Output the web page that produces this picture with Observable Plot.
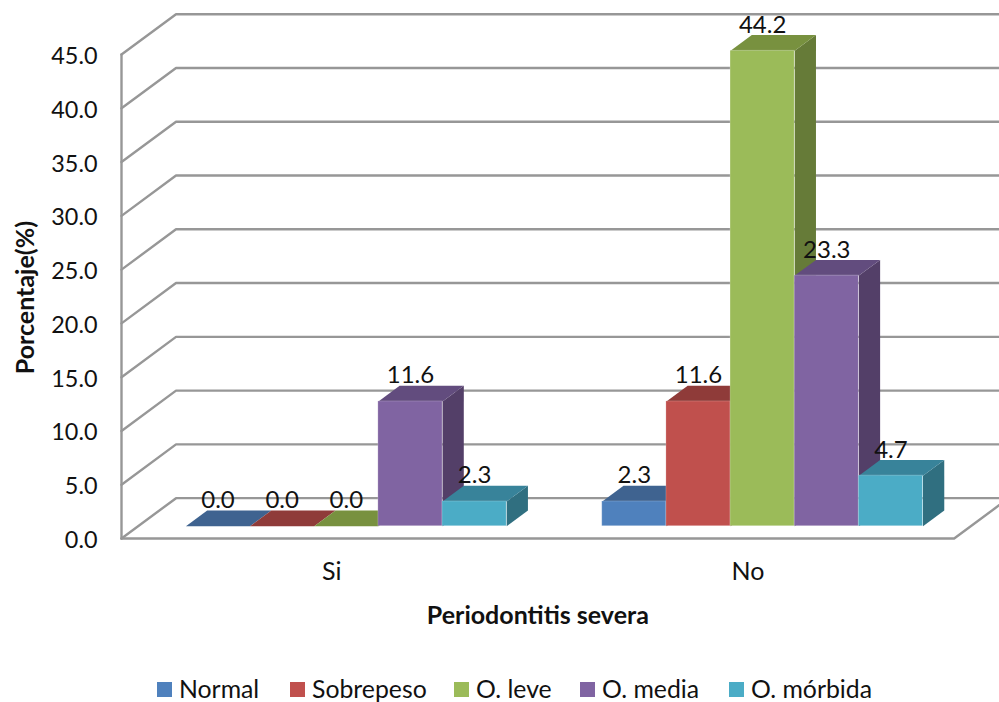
<!DOCTYPE html>
<html lang="es">
<head>
<meta charset="utf-8">
<script src="https://cdn.jsdelivr.net/npm/d3@7"></script>
<script src="https://cdn.jsdelivr.net/npm/@observablehq/plot@0.6"></script>
<style>
  html, body { margin: 0; padding: 0; background: #fff; }
  body { width: 999px; height: 702px; overflow: hidden; font-family: Lato, sans-serif; color: #111; }
  .legend { display: flex; align-items: center; margin-top: 35px; padding-left: 157px; font-size: 24.8px; line-height: 28px; }
  .legend span.item { display: inline-flex; align-items: center; white-space: nowrap; }
  .legend i { display: inline-block; width: 15px; height: 15px; margin-right: 7px; }
</style>
</head>
<body>
<div id="chart"></div>
<div class="legend" id="legend"></div>
<script>
// Percentages of severe periodontitis by body-weight group
const categories = ["Si", "No"];
const series = ["Normal", "Sobrepeso", "O. leve", "O. media", "O. mórbida"];
const valuesSi = [0.0, 0.0, 0.0, 11.6, 2.3];
const valuesNo = [2.3, 11.6, 44.2, 23.3, 4.7];
const frontColors = ["#4f81bd", "#c0504d", "#9bbb59", "#8064a2", "#4bacc6"];
const topColors = ["#3f6390", "#8f3b39", "#78913f", "#624c7e", "#38839a"];
const sideColors = ["#345273", "#73302e", "#667b38", "#533f68", "#306f80"];
const yTicks = d3.range(0, 50, 5);

// Oblique projection: depth runs from 0 (front of the floor) to 1 (back wall)
const gapWidth = 1.49;
const categoryWidth = series.length + gapWidth;
const floorWidth = categories.length * categoryWidth;
const depthX = 0.85;
const depthY = 3.75;
const barDepthStart = 0.305;
const barDepthEnd = 0.695;
const at = (u, v, d) => ({x: u + d * depthX, y: v + d * depthY});

const bars = categories.flatMap((category, c) =>
  (c === 0 ? valuesSi : valuesNo).map((value, s) => {
    const u = c * categoryWidth + gapWidth / 2 + s;
    return {category, series: series[s], s, value, u1: u, u2: u + 1};
  })
);

// Top and side faces, listed left to right so that nearer bars overlap correctly
const faces = bars.flatMap((b, i) => {
  const v = b.value;
  const [d1, d2] = [barDepthStart, barDepthEnd];
  const top = [at(b.u1, v, d1), at(b.u2, v, d1), at(b.u2, v, d2), at(b.u1, v, d2)];
  const side = [at(b.u2, 0, d1), at(b.u2, v, d1), at(b.u2, v, d2), at(b.u2, 0, d2)];
  return [
    ...side.map(p => ({...p, face: `s${i}`, color: sideColors[b.s]})),
    ...top.map(p => ({...p, face: `t${i}`, color: topColors[b.s]}))
  ];
});

// Wall gridlines with their floor-to-back-wall diagonals
const xEnd = floorWidth + 2;
const grid = yTicks.flatMap(v => [
  {...at(0, v, 0), v},
  {...at(0, v, 1), v},
  {...at(xEnd, v, 1), v}
]);
const floorOutline = [at(0, 0, 0), at(floorWidth, 0, 0), at(floorWidth, 0, 1)];
const frontAxis = [at(0, 0, 0), at(0, yTicks[yTicks.length - 1], 0)];

const pxPerU = 64.15;
const pxPerV = 10.755;
const width = 999, height = 640, left = 121, floorPx = 538;

const chart = Plot.plot({
  width, height,
  marginLeft: left, marginRight: 0, marginTop: 0, marginBottom: 0,
  style: {fontFamily: "Lato, sans-serif", fontSize: "23px", color: "#111", background: "#fff", overflow: "hidden"},
  x: {domain: [0, (width - left) / pxPerU], axis: null},
  y: {domain: [(floorPx - height) / pxPerV, floorPx / pxPerV], axis: null},
  color: {type: "identity"},
  marks: [
    Plot.line(grid, {x: "x", y: "y", z: "v", stroke: "#979797", strokeWidth: 2.4, curve: "linear"}),
    Plot.line(floorOutline, {x: "x", y: "y", stroke: "#979797", strokeWidth: 2.4}),
    Plot.line(frontAxis, {x: "x", y: "y", stroke: "#979797", strokeWidth: 2.4}),
    Plot.axisY({
      ticks: yTicks, tickFormat: d3.format(".1f"), tickSize: 0, tickPadding: 24,
      label: null, fontSize: 23.4, dy: 2, fill: "#111"
    }),
    Plot.line(faces, {x: "x", y: "y", z: "face", fill: "color", stroke: "none", curve: "linear-closed"}),
    Plot.rect(bars.filter(b => b.value > 0), {
      x1: b => at(b.u1, 0, barDepthStart).x,
      x2: b => at(b.u2, 0, barDepthStart).x,
      y1: b => at(b.u1, 0, barDepthStart).y,
      y2: b => at(b.u1, b.value, barDepthStart).y,
      fill: b => frontColors[b.s],
      stroke: "#fff", strokeOpacity: 0.2, strokeWidth: 1
    }),
    Plot.text(bars, {
      x: b => at((b.u1 + b.u2) / 2, 0, barDepthStart).x,
      y: b => at(0, b.value, barDepthStart).y,
      text: b => b.value.toFixed(1),
      dy: -18, lineAnchor: "bottom", fill: "#111", fontSize: 24
    }),
    Plot.text(categories, {
      x: (d, i) => (i + 0.5) * categoryWidth,
      y: () => 0,
      text: d => d,
      dy: 41, dx: 2, lineAnchor: "bottom", fill: "#111", fontSize: 25
    }),
    Plot.text(["Periodontitis severa"], {
      x: () => floorWidth / 2,
      y: () => 0,
      dy: 85, lineAnchor: "bottom", fontWeight: "bold", fill: "#111", fontSize: 25
    }),
    Plot.text(["Porcentaje(%)"], {
      frameAnchor: "left",
      textAnchor: "middle",
      y: () => 22.4,
      dx: -96,
      rotate: -90, fontWeight: "bold", fill: "#111", fontSize: 25
    })
  ]
});
document.getElementById("chart").append(chart);

// Series key below the plot
const legend = document.getElementById("legend");
const itemWidths = [133, 164, 126, 149, 150];
series.forEach((name, i) => {
  const item = document.createElement("span");
  item.className = "item";
  item.style.width = itemWidths[i] + "px";
  const swatch = document.createElement("i");
  swatch.style.background = frontColors[i];
  item.append(swatch, name);
  legend.append(item);
});
</script>
</body>
</html>
